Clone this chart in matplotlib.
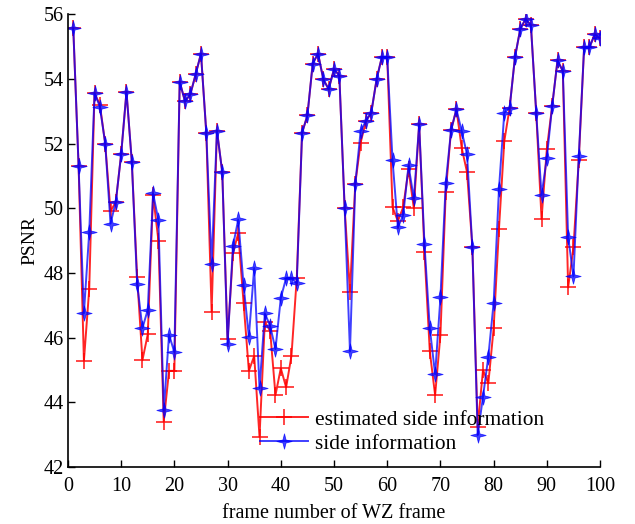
import numpy as np
import matplotlib
matplotlib.use("Agg")
import matplotlib.pyplot as plt
from matplotlib.path import Path

# PSNR per Wyner-Ziv frame
frames = np.arange(1, 101)

side_info = [
    55.57, 51.31, 46.75, 49.26, 53.56, 53.14, 52.00, 49.52, 50.20, 51.67,
    53.60, 51.44, 47.67, 46.29, 46.86, 50.46, 49.63, 43.75, 46.09, 45.54,
    53.91, 53.30, 53.52, 54.14, 54.78, 52.33, 48.27, 52.40, 51.11, 45.79,
    48.82, 49.65, 47.63, 46.03, 48.15, 44.43, 46.75, 46.36, 45.64, 47.22,
    47.84, 47.83, 47.68, 52.33, 52.87, 54.47, 54.78, 53.98, 53.68, 54.30,
    54.10, 50.00, 45.57, 50.76, 52.38, 52.70, 52.95, 53.98, 54.68, 54.66,
    51.48, 49.41, 49.78, 51.32, 50.30, 52.59, 48.89, 46.29, 44.86, 47.24,
    50.78, 52.41, 53.06, 52.38, 51.66, 48.79, 42.98, 44.17, 45.41, 47.08,
    50.60, 52.95, 53.10, 54.66, 55.54, 55.85, 55.66, 52.95, 50.40, 51.56,
    53.16, 54.57, 54.24, 49.11, 47.89, 51.61, 54.97, 54.97, 55.38, 55.25,
]

est_side_info = [
    55.57, 51.31, 45.28, 47.50, 53.56, 53.20, 52.00, 49.90, 50.20, 51.67,
    53.60, 51.44, 47.88, 45.30, 46.10, 50.40, 49.00, 43.40, 44.97, 44.97,
    53.91, 53.30, 53.52, 54.14, 54.78, 52.33, 46.80, 52.40, 51.11, 45.95,
    48.60, 49.23, 47.08, 44.97, 45.43, 42.93, 46.49, 46.20, 44.22, 45.05,
    44.46, 45.43, 47.84, 52.33, 52.87, 54.47, 54.78, 53.98, 53.68, 54.30,
    54.10, 50.00, 47.42, 50.76, 52.02, 52.70, 52.95, 53.98, 54.68, 54.66,
    50.03, 49.60, 50.03, 51.20, 50.00, 52.59, 48.64, 45.57, 44.22, 46.08,
    50.50, 52.41, 53.06, 51.86, 51.11, 48.79, 43.24, 45.00, 44.58, 46.29,
    49.36, 52.07, 53.10, 54.66, 55.54, 55.85, 55.66, 52.95, 49.67, 51.84,
    53.16, 54.57, 54.24, 47.55, 48.79, 51.50, 54.97, 54.97, 55.38, 55.25,
]

xticks = list(range(0, 101, 10))
yticks = list(range(42, 57, 2))

plt.rcParams['font.family'] = ['Liberation Serif', 'DejaVu Serif']

# thin four-point star for the side information marks
star4 = Path.unit_regular_star(4, 0.28)

fig = plt.figure(figsize=(6.35, 5.24), dpi=100)
ax = fig.add_axes([0.107, 0.109, 0.838, 0.864])

ax.plot(frames, est_side_info, color='red', lw=1.4, alpha=0.85,
        marker='+', ms=11, mew=1.2, label='estimated side information')
ax.plot(frames, side_info, color='blue', lw=1.4, alpha=0.75,
        marker=star4, ms=11, mew=0.6, label='side information')

ax.set_xlim(0, 100)
ax.set_ylim(42, 56)
ax.set_xticks(xticks)
ax.set_yticks(yticks)
ax.tick_params(direction='in', length=5, labelsize=14.5, width=1)
ax.tick_params(axis='x', pad=7)
ax.tick_params(axis='y', pad=3)

for s in ['top', 'right']:
    ax.spines[s].set_visible(False)
for s in ['left', 'bottom']:
    ax.spines[s].set_linewidth(1.2)

ax.set_xlabel('frame number of WZ frame', fontsize=14.5, labelpad=6)
ax.set_ylabel('PSNR', fontsize=14, labelpad=4)

ax.legend(loc='lower left', bbox_to_anchor=(0.345, 0.01), frameon=False,
          fontsize=15.4, numpoints=1, handlelength=2.25, handletextpad=0.33,
          labelspacing=0.2, borderaxespad=0.0)

fig.savefig('out.png', dpi=100)
